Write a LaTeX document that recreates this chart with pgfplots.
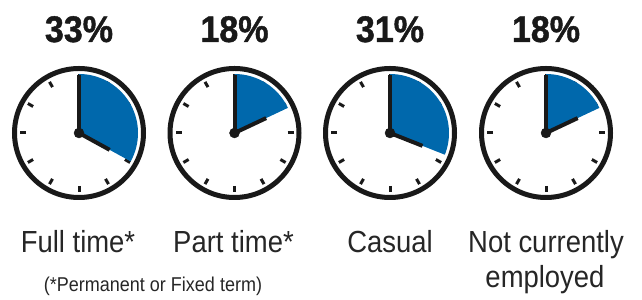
\documentclass[border=0pt]{standalone}
\usepackage{pgfplots}
\pgfplotsset{compat=1.18}
\usepackage{fontspec}
\setmainfont{Liberation Sans}
\newfontfamily\pctfont[FakeStretch=0.92,FakeBold=1.2]{Liberation Sans Bold}
\newfontfamily\labfont[FakeStretch=0.9]{Liberation Sans}
\definecolor{clockblue}{HTML}{0068AC}
\newcommand{\clockface}[2]{%
  % ticks
  \pgfplotsinvokeforeach{0,30,60,90,120,150,180,210,240,270,300,330}{%
    \draw[line width=3pt,black!90] (axis cs:#1,165) ++(##1:53pt) -- ++(##1:6pt);}
  % wedge
  \fill[clockblue] (axis cs:#1,165) -- ++(90:59pt) arc[start angle=90, end angle={90-3.6*#2}, radius=59pt] -- cycle;
  % ring
  \draw[line width=5pt,black!90] (axis cs:#1,165) circle[radius=64.5pt];
  % hands
  \draw[line width=4pt,black!90] (axis cs:#1,165) -- ++(90:58pt);
  \draw[line width=4pt,black!90] (axis cs:#1,165) -- ++({90-3.6*#2}:35pt);
  % percentage
  \node[anchor=base,font=\fontsize{37}{40}\selectfont\pctfont,black!90] at (axis cs:#1,256) {#2\%};
}
\begin{document}
\begin{tikzpicture}
\begin{axis}[x=1pt,y=1pt,xmin=0,xmax=642,ymin=0,ymax=298,hide axis,clip=false]
\path (axis cs:0,0) rectangle (axis cs:642,298);
\clockface{79}{33}
\clockface{234.5}{18}
\clockface{390}{31}
\clockface{546}{18}
\addplot[only marks,mark=*,mark size=5pt,black!90] coordinates {(79,165) (234.5,165) (390,165) (546,165)};
\tikzset{lab/.style={anchor=base,font=\fontsize{30.5}{32}\selectfont\labfont,black!85}}
\node[lab] at (axis cs:78,45) {Full time*};
\node[lab] at (axis cs:233.5,45) {Part time*};
\node[lab] at (axis cs:390,45) {Casual};
\node[lab] at (axis cs:546,45) {Not currently};
\node[lab] at (axis cs:545,10) {employed};
\node[anchor=base,font=\fontsize{20}{22}\selectfont\labfont,black!85] at (axis cs:153,6) {(*Permanent or Fixed term)};
\end{axis}
\end{tikzpicture}
\end{document}
